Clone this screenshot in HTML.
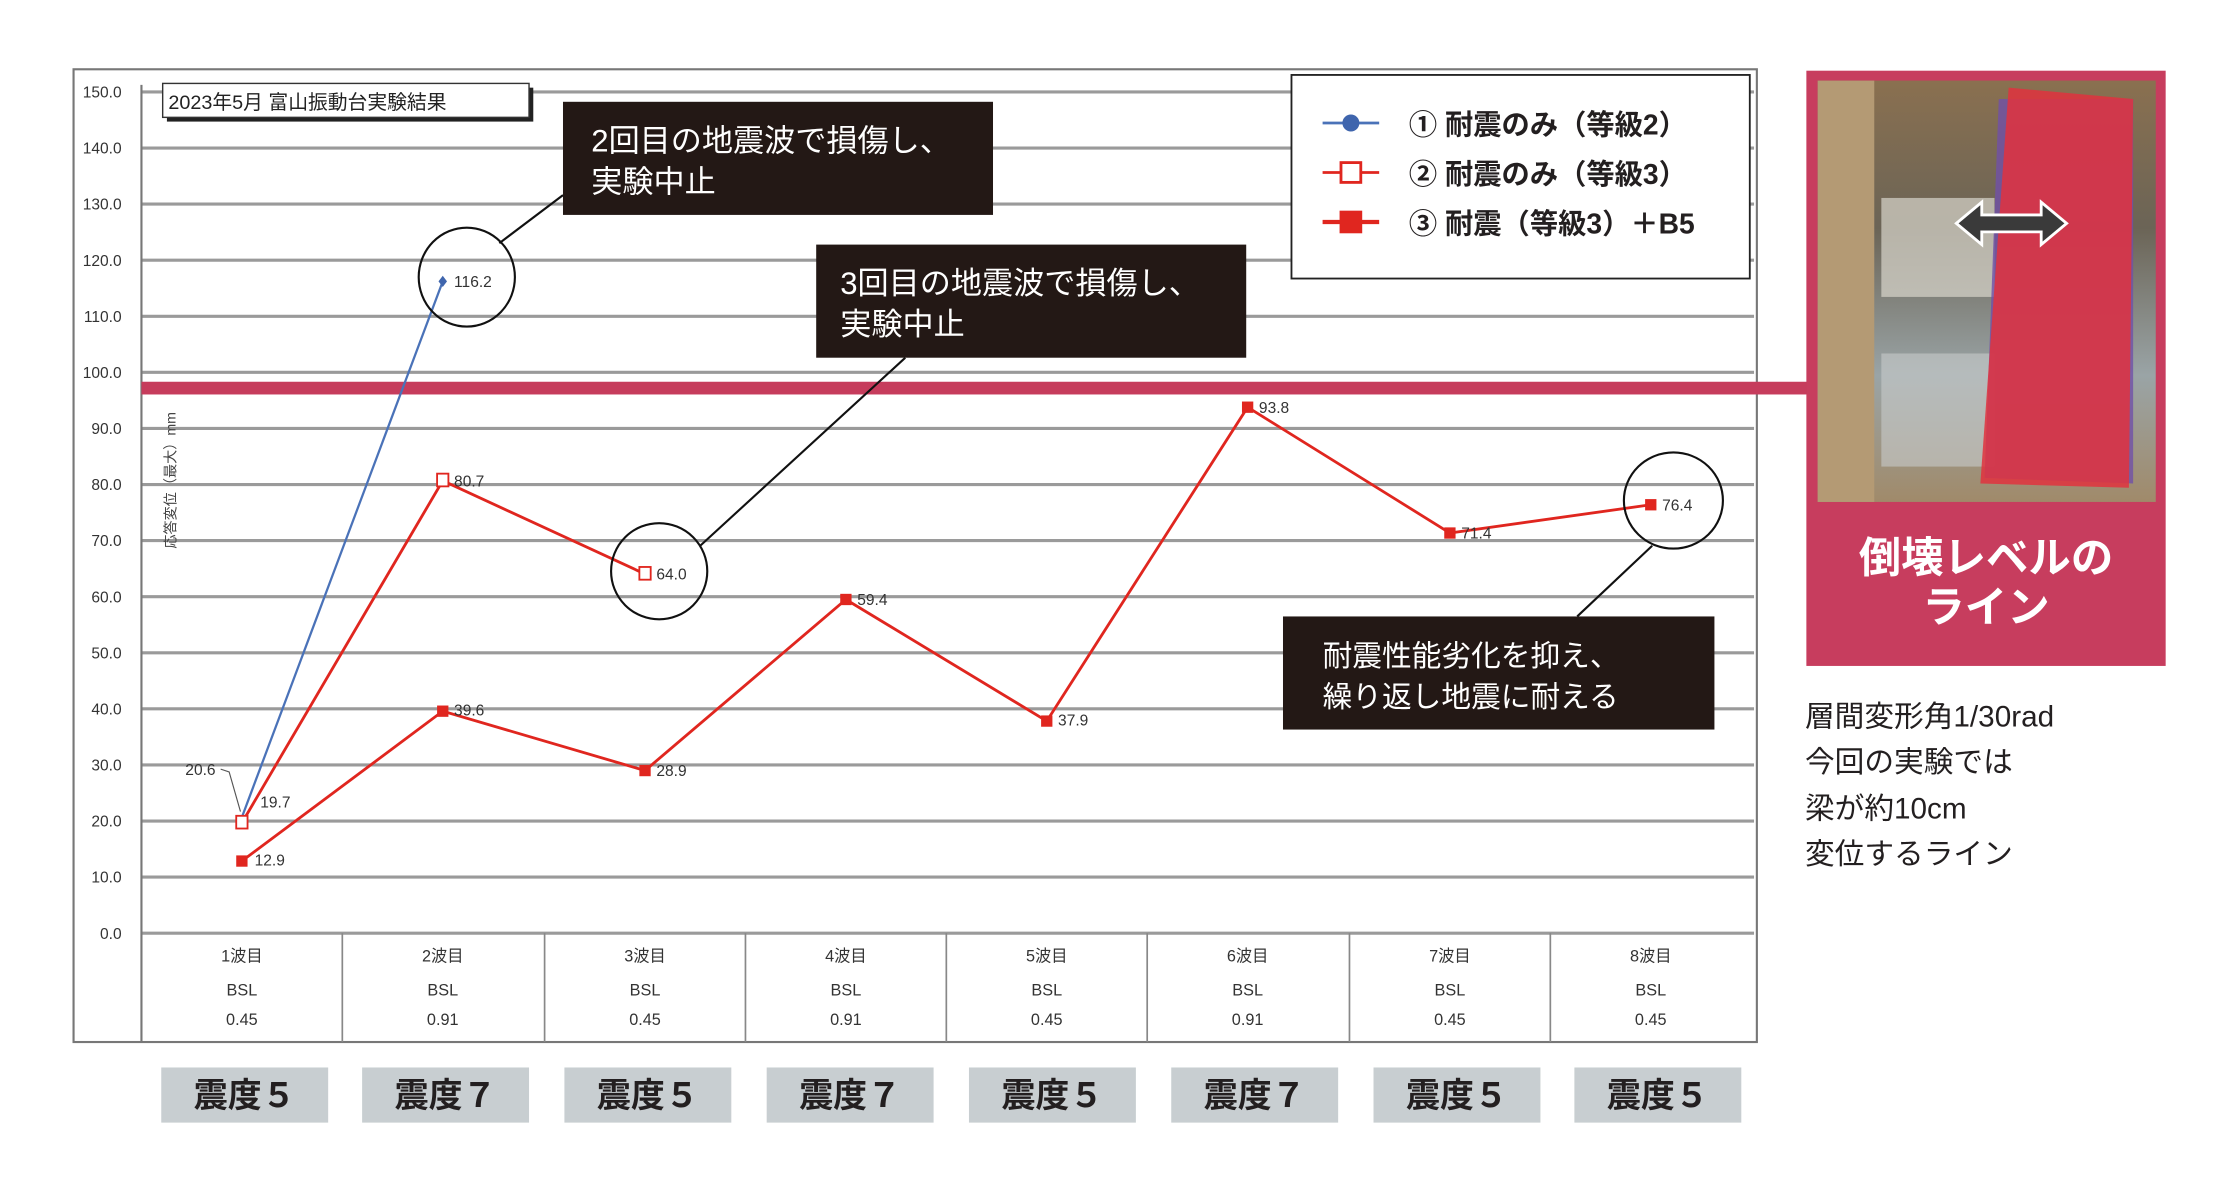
<!DOCTYPE html>
<html><head><meta charset="utf-8"><style>
html,body{margin:0;padding:0;background:#fff;width:2218px;height:1182px;overflow:hidden}
svg{display:block}
text{font-family:"Liberation Sans","Noto Sans CJK JP",sans-serif}
</style></head><body>
<svg width="2218" height="1182" viewBox="0 0 1568 836" preserveAspectRatio="none" xmlns="http://www.w3.org/2000/svg">
<rect width="1568" height="836" fill="#fff"/>
<rect x="52" y="49" width="1190" height="688" fill="#fff" stroke="#777" stroke-width="1.5"/>
<g stroke="#9a9a9a" stroke-width="2.2">
<line x1="100" y1="65" x2="1240" y2="65"/><line x1="100" y1="104.7" x2="1240" y2="104.7"/>
<line x1="100" y1="144.3" x2="1240" y2="144.3"/><line x1="100" y1="184" x2="1240" y2="184"/>
<line x1="100" y1="223.7" x2="1240" y2="223.7"/><line x1="100" y1="263.3" x2="1240" y2="263.3"/>
<line x1="100" y1="303" x2="1240" y2="303"/><line x1="100" y1="342.7" x2="1240" y2="342.7"/>
<line x1="100" y1="382.3" x2="1240" y2="382.3"/><line x1="100" y1="422" x2="1240" y2="422"/>
<line x1="100" y1="461.7" x2="1240" y2="461.7"/><line x1="100" y1="501.3" x2="1240" y2="501.3"/>
<line x1="100" y1="541" x2="1240" y2="541"/><line x1="100" y1="580.7" x2="1240" y2="580.7"/>
<line x1="100" y1="620.3" x2="1240" y2="620.3"/><line x1="100" y1="660" x2="1240" y2="660"/>
</g>
<line x1="100" y1="60" x2="100" y2="737" stroke="#777" stroke-width="1.5"/>
<g font-size="11" fill="#333" text-anchor="end">
<text x="86" y="69">150.0</text><text x="86" y="108.7">140.0</text><text x="86" y="148.3">130.0</text>
<text x="86" y="188">120.0</text><text x="86" y="227.7">110.0</text><text x="86" y="267.3">100.0</text>
<text x="86" y="307">90.0</text><text x="86" y="346.7">80.0</text><text x="86" y="386.3">70.0</text>
<text x="86" y="426">60.0</text><text x="86" y="465.7">50.0</text><text x="86" y="505.3">40.0</text>
<text x="86" y="545">30.0</text><text x="86" y="584.7">20.0</text><text x="86" y="624.3">10.0</text>
<text x="86" y="664">0.0</text>
</g>
<text transform="translate(124,388) rotate(-90)" font-size="10" fill="#444">応答変位（最大）mm</text>
<g stroke="#888" stroke-width="1.2">
<line x1="242" y1="660" x2="242" y2="737"/><line x1="385" y1="660" x2="385" y2="737"/>
<line x1="527" y1="660" x2="527" y2="737"/><line x1="669" y1="660" x2="669" y2="737"/>
<line x1="811" y1="660" x2="811" y2="737"/><line x1="954" y1="660" x2="954" y2="737"/>
<line x1="1096" y1="660" x2="1096" y2="737"/>
</g>
<g font-size="11.5" fill="#333" text-anchor="middle">
<text x="171" y="680">1波目</text><text x="171" y="704">BSL</text><text x="171" y="725">0.45</text>
<text x="313" y="680">2波目</text><text x="313" y="704">BSL</text><text x="313" y="725">0.91</text>
<text x="456" y="680">3波目</text><text x="456" y="704">BSL</text><text x="456" y="725">0.45</text>
<text x="598" y="680">4波目</text><text x="598" y="704">BSL</text><text x="598" y="725">0.91</text>
<text x="740" y="680">5波目</text><text x="740" y="704">BSL</text><text x="740" y="725">0.45</text>
<text x="882" y="680">6波目</text><text x="882" y="704">BSL</text><text x="882" y="725">0.91</text>
<text x="1025" y="680">7波目</text><text x="1025" y="704">BSL</text><text x="1025" y="725">0.45</text>
<text x="1167" y="680">8波目</text><text x="1167" y="704">BSL</text><text x="1167" y="725">0.45</text>
</g>
<g fill="#c8ced1">
<rect x="114" y="755" width="118" height="39"/><rect x="256" y="755" width="118" height="39"/>
<rect x="399" y="755" width="118" height="39"/><rect x="542" y="755" width="118" height="39"/>
<rect x="685" y="755" width="118" height="39"/><rect x="828" y="755" width="118" height="39"/>
<rect x="971" y="755" width="118" height="39"/><rect x="1113" y="755" width="118" height="39"/>
</g>
<g font-size="24" fill="#231f20" text-anchor="middle" font-weight="bold">
<text x="173" y="783">震度５</text><text x="315" y="783">震度７</text><text x="458" y="783">震度５</text>
<text x="601" y="783">震度７</text><text x="744" y="783">震度５</text><text x="887" y="783">震度７</text>
<text x="1030" y="783">震度５</text><text x="1172" y="783">震度５</text>
</g>
<rect x="118" y="62" width="259" height="24" fill="#222"/>
<rect x="115" y="59" width="259" height="24" fill="#fff" stroke="#333" stroke-width="1"/>
<text x="119" y="77" font-size="14" fill="#222">2023年5月  富山振動台実験結果</text>
<rect x="100" y="270" width="1180" height="9" fill="#c63c5c"/>
<polyline points="171,578 313,199" fill="none" stroke="#4a72b8" stroke-width="1.6"/>
<path d="M313,195 l3,4 l-3,4 l-3,-4z" fill="#3f65ad"/>
<polyline points="171,582 313,340 456,406" fill="none" stroke="#e0261f" stroke-width="2"/>
<polyline points="171,609 313,503 456,545 598,424 740,510 882,288 1025,377 1167,357" fill="none" stroke="#e0261f" stroke-width="2"/>
<g fill="#fff" stroke="#e0261f" stroke-width="1.3">
<rect x="167" y="577" width="8" height="9"/><rect x="309" y="335" width="8" height="9"/><rect x="452" y="401" width="8" height="9"/>
</g>
<g fill="#e0261f">
<rect x="167" y="605" width="8" height="8"/><rect x="309" y="499" width="8" height="8"/><rect x="452" y="541" width="8" height="8"/>
<rect x="594" y="420" width="8" height="8"/><rect x="736" y="506" width="8" height="8"/><rect x="878" y="284" width="8" height="8"/>
<rect x="1021" y="373" width="8" height="8"/><rect x="1163" y="353" width="8" height="8"/>
</g>
<g font-size="11" fill="#333">
<text x="321" y="203">116.2</text><text x="321" y="344">80.7</text><text x="464" y="410">64.0</text>
<text x="184" y="571">19.7</text><text x="180" y="612">12.9</text><text x="321" y="506">39.6</text>
<text x="464" y="549">28.9</text><text x="606" y="428">59.4</text><text x="748" y="513">37.9</text>
<text x="890" y="292">93.8</text><text x="1033" y="381">71.4</text><text x="1175" y="361">76.4</text>
<text x="131" y="548">20.6</text>
</g>
<polyline points="156,544 162,546 170,574" fill="none" stroke="#555" stroke-width="0.8"/>
<g fill="none" stroke="#111" stroke-width="1.5">
<ellipse cx="330" cy="196" rx="34" ry="35"/>
<ellipse cx="466" cy="404" rx="34" ry="34"/>
<ellipse cx="1183" cy="354" rx="35" ry="34"/>
<line x1="353" y1="172" x2="398" y2="138"/>
<line x1="495" y1="386" x2="640" y2="253"/>
<line x1="1168" y1="386" x2="1115" y2="436"/>
</g>
<rect x="398" y="72" width="304" height="80" fill="#231815"/>
<text x="418" y="107" font-size="22" fill="#fff">2回目の地震波で損傷し、</text>
<text x="418" y="136" font-size="22" fill="#fff">実験中止</text>
<rect x="577" y="173" width="304" height="80" fill="#231815"/>
<text x="594" y="208" font-size="22" fill="#fff">3回目の地震波で損傷し、</text>
<text x="594" y="237" font-size="22" fill="#fff">実験中止</text>
<rect x="907" y="436" width="305" height="80" fill="#231815"/>
<text x="935" y="471" font-size="21" fill="#fff">耐震性能劣化を抑え、</text>
<text x="935" y="500" font-size="21" fill="#fff">繰り返し地震に耐える</text>
<rect x="913" y="53" width="324" height="144" fill="#fff" stroke="#222" stroke-width="1.3"/>
<line x1="935" y1="87" x2="975" y2="87" stroke="#4a72b8" stroke-width="2"/><circle cx="955" cy="87" r="6" fill="#3f65ad"/>
<line x1="935" y1="122" x2="975" y2="122" stroke="#e0261f" stroke-width="2"/><rect x="948" y="115" width="14" height="14" fill="#fff" stroke="#e0261f" stroke-width="2"/>
<line x1="935" y1="157" x2="975" y2="157" stroke="#e0261f" stroke-width="3"/><rect x="947" y="149" width="16" height="16" fill="#e0261f"/>
<g font-size="20" fill="#231f20" font-weight="bold">
<text x="996" y="95">① 耐震のみ（等級2）</text>
<text x="996" y="130">② 耐震のみ（等級3）</text>
<text x="996" y="165">③ 耐震（等級3）＋B5</text>
</g>
<rect x="1277" y="50" width="254" height="421" fill="#c73d5e"/>
<defs><linearGradient id="ph" x1="0" y1="0" x2="0" y2="1">
<stop offset="0" stop-color="#8a7050"/><stop offset="0.35" stop-color="#6b6456"/><stop offset="0.7" stop-color="#9aa4a6"/><stop offset="1" stop-color="#a08a6a"/></linearGradient></defs>
<rect x="1285" y="57" width="239" height="298" fill="url(#ph)"/>
<rect x="1285" y="57" width="40" height="298" fill="#b49a74"/>
<rect x="1330" y="140" width="80" height="70" fill="#d8d6cc" opacity="0.7"/>
<rect x="1330" y="250" width="80" height="80" fill="#c8cccc" opacity="0.6"/>
<polygon points="1413,70 1508,70 1508,342 1403,338" fill="#7050a8" opacity="0.8"/>
<polygon points="1420,62 1508,70 1505,345 1400,342" fill="#e0323e" opacity="0.85"/>
<path d="M1383,158 l18,-15 v9 h42 v-9 l18,15 l-18,15 v-9 h-42 v9z" fill="#3a3a3a" stroke="#fff" stroke-width="2"/>
<g font-size="30" fill="#fff" font-weight="bold" text-anchor="middle">
<text x="1404" y="405">倒壊レベルの</text>
<text x="1404" y="440">ライン</text>
</g>
<g font-size="21" fill="#231f20">
<text x="1276" y="514">層間変形角1/30rad</text>
<text x="1276" y="546">今回の実験では</text>
<text x="1276" y="579">梁が約10cm</text>
<text x="1276" y="611">変位するライン</text>
</g>
</svg>
</body></html>
